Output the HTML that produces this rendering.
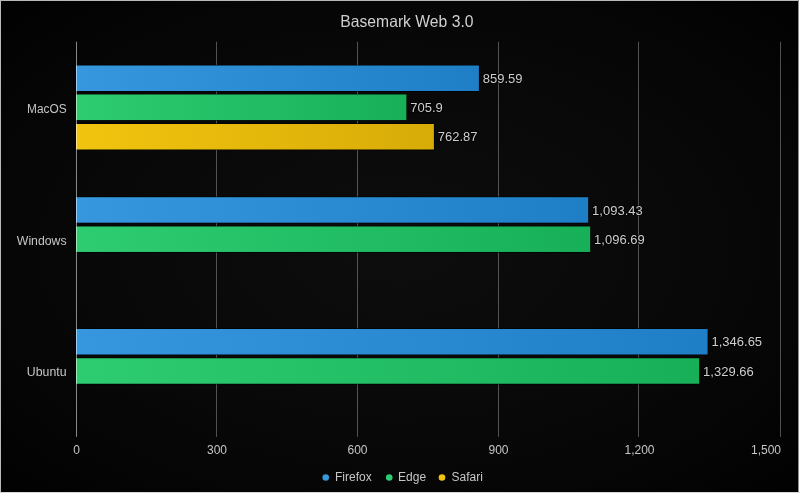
<!DOCTYPE html>
<html><head><meta charset="utf-8"><title>Basemark Web 3.0</title>
<style>
html,body{margin:0;padding:0;background:#000;}
body{width:800px;height:494px;overflow:hidden;}
svg{display:block;font-family:"Liberation Sans",sans-serif;will-change:transform;}
</style></head><body>
<svg width="800" height="494" viewBox="0 0 800 494">
<defs>
<radialGradient id="bg" cx="50%" cy="50%" r="72%"><stop offset="0" stop-color="#0d0d0d"/><stop offset="0.55" stop-color="#080808"/><stop offset="1" stop-color="#010101"/></radialGradient>
<linearGradient id="b" x1="0" x2="1" y1="0" y2="0"><stop offset="0" stop-color="#3797de"/><stop offset="1" stop-color="#1f7fc6"/></linearGradient>
<linearGradient id="g" x1="0" x2="1" y1="0" y2="0"><stop offset="0" stop-color="#2ecc71"/><stop offset="1" stop-color="#17b059"/></linearGradient>
<linearGradient id="y" x1="0" x2="1" y1="0" y2="0"><stop offset="0" stop-color="#f1c40f"/><stop offset="1" stop-color="#d8ac08"/></linearGradient>
</defs>
<rect width="800" height="494" fill="url(#bg)"/>

<rect x="216" y="41.7" width="1" height="395.2" fill="#fff" fill-opacity="0.3"/>
<rect x="357" y="41.7" width="1" height="395.2" fill="#fff" fill-opacity="0.3"/>
<rect x="498" y="41.7" width="1" height="395.2" fill="#fff" fill-opacity="0.3"/>
<rect x="638" y="41.7" width="1" height="395.2" fill="#fff" fill-opacity="0.3"/>
<rect x="780" y="41.7" width="1" height="395.2" fill="#fff" fill-opacity="0.3"/>
<rect x="75.5" y="64.90" width="404.00" height="26.70" fill="#000"/>
<rect x="76" y="65.50" width="402.90" height="25.50" fill="url(#b)"/>
<rect x="75.5" y="93.85" width="331.50" height="26.85" fill="#000"/>
<rect x="76" y="94.45" width="330.40" height="25.65" fill="url(#g)"/>
<rect x="75.5" y="123.40" width="359.00" height="26.70" fill="#000"/>
<rect x="76" y="124.00" width="357.90" height="25.50" fill="url(#y)"/>
<rect x="75.5" y="196.60" width="513.30" height="26.70" fill="#000"/>
<rect x="76" y="197.20" width="512.20" height="25.50" fill="url(#b)"/>
<rect x="75.5" y="225.85" width="515.30" height="26.70" fill="#000"/>
<rect x="76" y="226.45" width="514.20" height="25.50" fill="url(#g)"/>
<rect x="75.5" y="328.40" width="632.70" height="26.70" fill="#000"/>
<rect x="76" y="329.00" width="631.60" height="25.50" fill="url(#b)"/>
<rect x="75.5" y="357.65" width="624.30" height="26.70" fill="#000"/>
<rect x="76" y="358.25" width="623.20" height="25.50" fill="url(#g)"/>
<rect x="76" y="41.7" width="1" height="395.2" fill="#fff" fill-opacity="0.52"/>
<g font-size="13" fill="#cecece" stroke="#000" stroke-width="2" stroke-opacity="0.7" paint-order="stroke" stroke-linejoin="round">
<text x="482.8" y="82.9">859.59</text>
<text x="410.3" y="112.2">705.9</text>
<text x="437.8" y="141.4">762.87</text>
<text x="592.1" y="214.6">1,093.43</text>
<text x="594.1" y="243.8">1,096.69</text>
<text x="711.5" y="346.4">1,346.65</text>
<text x="703.1" y="375.6">1,329.66</text>
</g>
<g font-size="12" fill="#c6c6c6">
<text x="27.0" y="112.9" textLength="39.6" lengthAdjust="spacingAndGlyphs">MacOS</text>
<text x="16.8" y="244.6" textLength="49.8" lengthAdjust="spacingAndGlyphs">Windows</text>
<text x="26.8" y="376.4" textLength="39.7" lengthAdjust="spacingAndGlyphs">Ubuntu</text>
</g>
<g font-size="12" fill="#c6c6c6" text-anchor="middle">
<text x="76.5" y="454">0</text>
<text x="217" y="454">300</text>
<text x="357.5" y="454">600</text>
<text x="498.5" y="454">900</text>
<text x="639.5" y="454">1,200</text>
<text x="781" y="454" text-anchor="end">1,500</text>
</g>
<text x="340.3" y="26.8" font-size="16.5" fill="#cfcfcf" textLength="133.2" lengthAdjust="spacingAndGlyphs">Basemark Web 3.0</text>
<g font-size="12" fill="#c6c6c6">
<circle cx="325.75" cy="477.5" r="3.3" fill="#3498db"/><text x="335" y="480.8">Firefox</text>
<circle cx="389.25" cy="477.5" r="3.3" fill="#2ecc71"/><text x="398.1" y="480.8">Edge</text>
<circle cx="442" cy="477.5" r="3.3" fill="#f1c40f"/><text x="451.5" y="480.8">Safari</text>
</g>
<rect x="0" y="0" width="800" height="1" fill="#b9b9b9"/><rect x="0" y="0" width="1" height="494" fill="#b9b9b9"/>
<rect x="798" y="0" width="1" height="494" fill="#8c8c8c"/><rect x="799" y="0" width="1" height="494" fill="#fff"/>
<rect x="0" y="492" width="800" height="1" fill="#d8d8d8"/><rect x="0" y="493" width="800" height="1" fill="#fff"/>
</svg></body></html>
